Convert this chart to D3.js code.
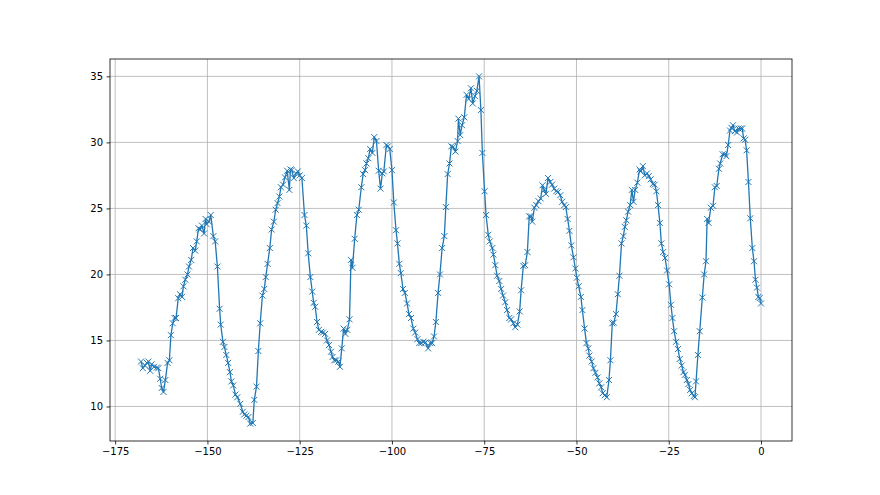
<!DOCTYPE html>
<html>
<head>
<meta charset="utf-8">
<script src="https://cdn.jsdelivr.net/npm/d3@7"></script>
<style>
  body { margin: 0; background: #fff; }
  .axis text { font-family: "DejaVu Sans", sans-serif; font-size: 10px; fill: #000; }
  .axis path, .axis line { stroke: #000; stroke-width: 0.8; }
  .grid line { stroke: #b0b0b0; stroke-width: 0.8; }
</style>
</head>
<body>
<div id="chart"></div>
<script>
// hours relative to now
var hours = [
  -168.0, -167.5, -166.9, -166.4, -166.0, -165.5, -165.1, -164.5, -163.7, -163.3,
  -162.8, -162.4, -161.9, -161.4, -160.8, -160.3, -159.9, -159.4, -158.9, -158.5,
  -157.9, -157.4, -156.9, -156.5, -156.0, -155.4, -155.0, -154.4, -153.9, -153.3,
  -152.9, -152.4, -152.0, -151.5, -150.9, -150.5, -150.2, -149.6, -149.1, -148.4,
  -147.9, -147.3, -146.7, -146.4, -145.8, -145.4, -144.9, -144.4, -143.9, -143.5,
  -143.0, -142.4, -141.9, -141.1, -140.4, -140.0, -139.45, -138.9, -138.4, -137.7,
  -137.3, -136.7, -136.2, -135.7, -135.1, -134.6, -134.2, -133.7, -133.1, -132.6,
  -132.0, -131.5, -131.0, -130.5, -130.1, -129.5, -129.0, -128.4, -127.8, -127.5,
  -127.2, -126.6, -126.0, -125.5, -125.0, -124.4, -123.7, -123.2, -122.7, -122.1,
  -121.6, -121.2, -120.8, -120.3, -119.8, -119.2, -118.7, -118.1, -117.6, -117.05,
  -116.5, -116.1, -115.6, -115.1, -114.5, -114.1, -113.6, -113.1, -112.6, -112.1,
  -111.5, -111.1, -110.7, -110.1, -109.5, -109.0, -108.3, -107.8, -107.3, -106.9,
  -106.4, -105.9, -105.3, -104.8, -104.2, -103.6, -103.1, -102.6, -102.2, -101.5,
  -101.1, -100.6, -100.0, -99.5, -98.9, -98.5, -98.0, -97.6, -97.0, -96.5,
  -95.9, -95.4, -94.85, -94.2, -93.7, -93.1, -92.6, -92.05, -91.5, -90.9,
  -90.2, -89.6, -89.1, -88.6, -88.1, -87.5, -87.0, -86.4, -85.8, -85.4,
  -84.9, -84.4, -83.9, -83.4, -82.8, -82.2, -82.0, -81.5, -81.0, -80.4,
  -79.8, -79.2, -78.6, -78.1, -77.5, -77.0, -76.4, -75.9, -75.5, -74.9,
  -74.5, -73.9, -73.5, -72.8, -72.5, -72.0, -71.5, -70.9, -70.4, -69.9,
  -69.3, -68.8, -68.2, -67.7, -67.1, -66.6, -66.0, -65.4, -65.0, -64.4,
  -63.9, -63.3, -62.8, -62.35, -62.0, -61.4, -60.9, -60.3, -59.7, -59.2,
  -58.7, -58.3, -57.7, -57.1, -56.6, -56.05, -55.5, -55.0, -54.4, -53.9,
  -53.3, -52.9, -52.4, -51.9, -51.4, -50.8, -50.3, -49.9, -49.4, -48.8,
  -48.4, -47.8, -47.3, -46.8, -46.5, -45.9, -45.4, -44.85, -44.3, -43.8,
  -43.3, -42.9, -42.3, -41.8, -41.2, -40.8, -40.3, -39.9, -39.3, -38.8,
  -38.35, -37.8, -37.3, -36.9, -36.5, -36.0, -35.45, -35.0, -34.55, -34.1,
  -33.5, -32.9, -32.6, -32.0, -31.5, -30.9, -30.4, -29.9, -29.3, -28.8,
  -28.35, -27.9, -27.4, -27.0, -26.5, -26.0, -25.45, -24.9, -24.4, -24.0,
  -23.55, -23.0, -22.5, -22.0, -21.5, -21.0, -20.6, -20.1, -19.65, -19.2,
  -18.75, -18.2, -17.9, -17.6, -17.1, -16.6, -15.9, -15.4, -14.9, -14.6,
  -14.2, -13.6, -13.0, -12.5, -12.0, -11.4, -11.05, -10.4, -9.8, -9.4,
  -8.9, -8.4, -8.0, -7.6, -7.1, -6.5, -6.1, -5.5, -5.1, -4.7,
  -4.3, -3.9, -3.4, -2.9, -2.35, -1.9, -1.5, -1.1, -0.7, -0.4,
  0.0
];

var temps = [
  13.4, 12.9, 13.1, 13.3, 13.4, 12.7, 13.2, 13.0, 12.95, 12.9,
  12.1, 11.4, 11.1, 12.0, 13.3, 13.5, 15.4, 16.3, 16.7, 16.7,
  18.2, 18.5, 18.3, 19.1, 19.6, 20.0, 20.6, 21.1, 22.0, 21.8,
  22.5, 23.5, 23.4, 23.7, 23.1, 24.2, 23.8, 24.0, 24.5, 22.9,
  22.5, 20.6, 17.4, 16.2, 14.9, 14.5, 13.9, 13.3, 12.6, 11.9,
  11.6, 10.9, 10.7, 10.2, 9.6, 9.4, 9.3, 9.2, 8.7, 8.75,
  10.5, 11.5, 14.2, 16.3, 18.4, 18.9, 19.8, 20.8, 22.0, 23.4,
  24.0, 24.9, 25.4, 25.9, 26.6, 26.8, 27.35, 27.85, 26.4, 27.95,
  27.9, 27.3, 27.65, 27.8, 27.5, 27.3, 24.5, 23.7, 21.6, 19.8,
  18.7, 17.85, 17.55, 16.4, 15.8, 15.65, 15.6, 15.5, 15.0, 14.65,
  14.15, 13.75, 13.5, 13.5, 13.4, 13.0, 14.4, 15.9, 15.5, 15.8,
  16.6, 21.1, 20.5, 22.7, 24.5, 24.9, 26.6, 27.6, 27.9, 28.4,
  28.8, 29.5, 29.2, 30.4, 30.1, 27.85, 26.5, 27.65, 27.8, 29.8,
  29.7, 29.5, 27.9, 25.45, 23.35, 22.35, 20.8, 20.1, 18.9, 18.6,
  17.8, 17.0, 16.7, 15.9, 15.6, 15.1, 14.8, 14.8, 14.9, 14.85,
  14.4, 14.8, 14.8, 15.3, 16.4, 18.6, 20.0, 22.0, 22.9, 25.1,
  27.6, 28.4, 29.7, 29.65, 29.3, 30.1, 31.8, 30.55, 31.3, 31.9,
  33.6, 33.3, 34.1, 32.95, 33.5, 33.9, 35.0, 32.45, 29.2, 26.3,
  24.5, 23.0, 22.5, 22.0, 21.5, 20.7, 19.9, 19.5, 18.9, 18.4,
  17.9, 17.3, 16.7, 16.6, 16.3, 16.0, 16.2, 17.2, 18.8, 20.65,
  20.7, 21.7, 24.4, 24.4, 24.0, 25.05, 25.25, 25.55, 25.75, 26.75,
  26.4, 26.1, 27.3, 27.0, 26.8, 26.5, 26.3, 26.25, 26.0, 25.5,
  25.25, 25.1, 24.2, 23.3, 22.2, 21.3, 20.45, 19.75, 19.1, 18.3,
  17.3, 15.9, 14.8, 14.4, 13.85, 13.4, 12.9, 12.55, 12.2, 11.75,
  11.45, 11.0, 10.85, 10.7, 12.0, 13.5, 16.3, 16.35, 17.0, 18.5,
  19.9, 22.35, 22.9, 23.6, 24.1, 24.75, 25.25, 26.4, 25.5, 26.4,
  26.95, 27.95, 27.8, 28.2, 27.5, 27.65, 27.45, 27.2, 26.85, 26.8,
  26.3, 25.25, 23.9, 22.35, 21.7, 21.25, 20.3, 19.25, 17.7, 16.7,
  15.7, 14.9, 14.35, 13.6, 13.1, 12.6, 12.4, 12.0, 11.7, 11.25,
  11.0, 10.8, 10.7, 11.9, 13.9, 15.7, 18.25, 20.0, 21.0, 24.2,
  23.9, 25.05, 25.2, 26.6, 26.7, 28.0, 28.4, 29.1, 29.1, 28.95,
  29.8, 30.9, 31.1, 31.3, 30.85, 30.75, 31.05, 31.05, 31.05, 30.3,
  30.2, 29.4, 27.0, 24.25, 22.0, 21.0, 19.6, 19.0, 18.3, 18.2,
  17.8
];

var xTicks = [-175, -150, -125, -100, -75, -50, -25, 0];
var yTicks = [10, 15, 20, 25, 30, 35];

var W = 880, H = 495;
var margin = { top: 59, right: 88, bottom: 54, left: 110 };
var width = W - margin.left - margin.right,
    height = H - margin.top - margin.bottom;

var data = hours.map(function (h, i) { return [h, temps[i]]; });

// matplotlib style 5% padding
var xExt = d3.extent(hours), yExt = d3.extent(temps);
var xPad = (xExt[1] - xExt[0]) * 0.05, yPad = (yExt[1] - yExt[0]) * 0.05;

var x = d3.scaleLinear().domain([xExt[0] - xPad, xExt[1] + xPad]).range([0, width]);
var y = d3.scaleLinear().domain([yExt[0] - yPad, yExt[1] + yPad]).range([height, 0]);

var svg = d3.select("#chart").append("svg")
    .attr("width", W)
    .attr("height", H);

var g = svg.append("g")
    .attr("transform", "translate(" + margin.left + "," + margin.top + ")");

// grid
g.append("g").attr("class", "grid")
    .selectAll("line.v").data(xTicks).enter().append("line")
    .attr("x1", function (d) { return x(d); })
    .attr("x2", function (d) { return x(d); })
    .attr("y1", 0).attr("y2", height);

g.append("g").attr("class", "grid")
    .selectAll("line.h").data(yTicks).enter().append("line")
    .attr("x1", 0).attr("x2", width)
    .attr("y1", function (d) { return y(d); })
    .attr("y2", function (d) { return y(d); });

var line = d3.line()
    .x(function (d) { return x(d[0]); })
    .y(function (d) { return y(d[1]); });

g.append("path")
    .datum(data)
    .attr("fill", "none")
    .attr("stroke", "#1f77b4")
    .attr("stroke-width", 1.3)
    .attr("stroke-linejoin", "round")
    .attr("d", line);

// x markers
var m = 3;
g.append("g").selectAll("path.mk").data(data).enter().append("path")
    .attr("class", "mk")
    .attr("d", function (d) {
        var cx = x(d[0]), cy = y(d[1]);
        return "M" + (cx - m) + "," + (cy - m) + "L" + (cx + m) + "," + (cy + m) +
               "M" + (cx - m) + "," + (cy + m) + "L" + (cx + m) + "," + (cy - m);
    })
    .attr("stroke", "#1f77b4")
    .attr("stroke-width", 1)
    .attr("fill", "none");

// frame
g.append("rect")
    .attr("width", width).attr("height", height)
    .attr("fill", "none").attr("stroke", "#000").attr("stroke-width", 0.8);

var fmt = d3.format("d");

g.append("g").attr("class", "axis")
    .attr("transform", "translate(0," + height + ")")
    .call(d3.axisBottom(x).tickValues(xTicks).tickFormat(fmt).tickSize(3.5).tickPadding(3.5))
    .call(function (s) { s.select(".domain").remove(); });

g.append("g").attr("class", "axis")
    .call(d3.axisLeft(y).tickValues(yTicks).tickFormat(fmt).tickSize(3.5).tickPadding(3.5))
    .call(function (s) { s.select(".domain").remove(); });
</script>
</body>
</html>
